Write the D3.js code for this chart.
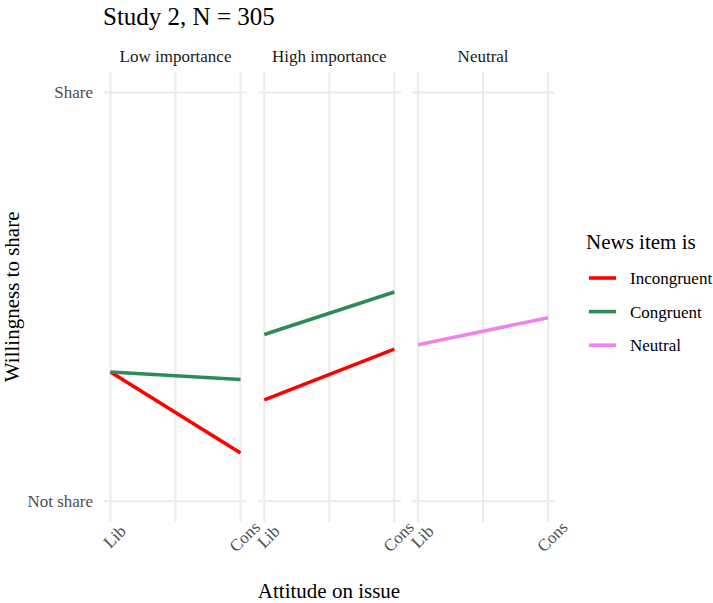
<!DOCTYPE html>
<html><head><meta charset="utf-8">
<script src="https://cdn.jsdelivr.net/npm/d3@7"></script>
<style>body{margin:0;background:#fff;} svg{display:block;}</style>
</head><body>
<svg id="chart" width="713" height="603"></svg>
<script>
const title = "Study 2, N = 305";
const facets = ["Low importance", "High importance", "Neutral"];
const xTickLabels = ["Lib", "Cons"];
const yTickLabels = ["Not share", "Share"];
const seriesNames = ["Incongruent", "Congruent", "Neutral"];
const seriesColors = ["#FF0000", "#2E8B57", "#EE82EE"];
// values: [Lib, Cons] per facet, scaled 0 = Not share, 1 = Share
const incongruentLow = [0.316, 0.118];
const congruentLow = [0.316, 0.298];
const incongruentHigh = [0.248, 0.372];
const congruentHigh = [0.408, 0.512];
const neutralNeutral = [0.383, 0.449];

const lines = [
  {facet: 0, series: 0, values: incongruentLow},
  {facet: 0, series: 1, values: congruentLow},
  {facet: 1, series: 0, values: incongruentHigh},
  {facet: 1, series: 1, values: congruentHigh},
  {facet: 2, series: 2, values: neutralNeutral}
];

const svg = d3.select("#chart");
const serif = "'Liberation Serif', 'Times New Roman', serif";
const panelTop = 72, panelBottom = 521.7;
const panelLeft0 = 104, panelW = 143, panelStep = 153.8;

const x = d3.scaleLinear().domain([-0.05, 1.05]).range([0, panelW]);
const y = d3.scaleLinear().domain([-0.05, 1.05]).range([panelBottom, panelTop]);
const grid = "#EBEBEB";

facets.forEach((f, i) => {
  const g = svg.append("g").attr("transform", `translate(${panelLeft0 + i * panelStep},0)`);
  [0, 1].forEach(v => g.append("line").attr("x1", 0).attr("x2", panelW)
    .attr("y1", y(v)).attr("y2", y(v)).attr("stroke", grid).attr("stroke-width", 2));
  [0, 0.5, 1].forEach(v => g.append("line").attr("x1", x(v)).attr("x2", x(v))
    .attr("y1", panelTop).attr("y2", panelBottom).attr("stroke", grid).attr("stroke-width", 2));
  g.append("text").attr("x", panelW / 2).attr("y", 62).attr("text-anchor", "middle")
    .attr("font-family", serif).attr("font-size", 17).attr("fill", "#1A1A1A").text(f);
  xTickLabels.forEach((lab, j) => {
    const cx = x(j) + 4, cy = 536.5;
    g.append("text").attr("transform", `translate(${cx},${cy}) rotate(-45)`)
      .attr("text-anchor", "middle").attr("dy", "0.35em")
      .attr("font-family", serif).attr("font-size", 17).attr("fill", "#4D4D4D").text(lab);
  });
  const lg = d3.line().x((d, k) => x(k)).y(d => y(d));
  lines.filter(l => l.facet === i).forEach(l => {
    g.append("path").attr("d", lg(l.values)).attr("fill", "none")
      .attr("stroke", seriesColors[l.series]).attr("stroke-width", 3.6);
  });
});

yTickLabels.forEach((lab, j) => {
  svg.append("text").attr("x", 93).attr("y", y(j)).attr("dy", "0.35em").attr("text-anchor", "end")
    .attr("font-family", serif).attr("font-size", 17).attr("fill", "#4D4D4D").text(lab);
});

svg.append("text").attr("x", 103).attr("y", 25).attr("font-family", serif).attr("font-size", 25)
  .attr("fill", "#000").text(title);
svg.append("text").attr("x", 329).attr("y", 598).attr("text-anchor", "middle")
  .attr("font-family", serif).attr("font-size", 21).attr("fill", "#000").text("Attitude on issue");
svg.append("text").attr("transform", `translate(19,${(panelTop + panelBottom) / 2}) rotate(-90)`)
  .attr("text-anchor", "middle").attr("font-family", serif).attr("font-size", 21).attr("fill", "#000")
  .text("Willingness to share");

svg.append("text").attr("x", 586).attr("y", 249.3).attr("font-family", serif).attr("font-size", 21)
  .attr("fill", "#000").text("News item is");
seriesNames.forEach((s, i) => {
  const ly = 278 + i * 33.6;
  svg.append("line").attr("x1", 589).attr("x2", 616).attr("y1", ly).attr("y2", ly)
    .attr("stroke", seriesColors[i]).attr("stroke-width", 3.6);
  svg.append("text").attr("x", 630).attr("y", ly).attr("dy", "0.35em").attr("font-family", serif)
    .attr("font-size", 17).attr("fill", "#000").text(s);
});
</script>
</body></html>
